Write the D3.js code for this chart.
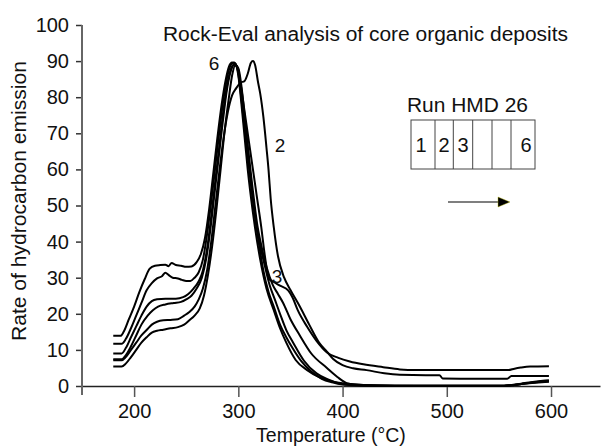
<!DOCTYPE html>
<html><head><meta charset="utf-8">
<script src="https://cdn.jsdelivr.net/npm/d3@7"></script>
<style>
html,body{margin:0;padding:0;background:#fff;}
text{font-family:"Liberation Sans",Arial,Helvetica,sans-serif;fill:#111;}
</style></head>
<body><svg id="c" width="601" height="448"></svg>
<script>
// ---- data ----
const title = "Rock-Eval analysis of core organic deposits";
const xLabel = "Temperature (°C)";
const yLabel = "Rate of hydrocarbon emission";
const xTicks = [200, 300, 400, 500, 600];
const yTicks = [0, 10, 20, 30, 40, 50, 60, 70, 80, 90, 100];
const legendTitle = "Run HMD 26";
const legendCells = ["1", "2", "3", "", "", "6"];

const run6 = [[180,13.9],[187,13.9],[190,15],[195,18.5],[200,22],[205,26],[210,29.5],[215,32.5],[220,33.3],[225,33.5],[230,33.6],[233,33.2],[236,34.1],[240,33.5],[245,33.3],[250,33],[255,33.1],[260,34.3],[264,36.5],[268,41],[272,49],[276,59],[280,69],[284,78],[288,85],[291,88.5],[294,89.6],[297,89.3],[300,86],[303,78],[306,69],[309,60],[314,48],[321,35],[327,27],[334,21],[340,16],[346,12],[355,7.2],[366,4.4],[378,2.4],[391,1.2],[405,0.6],[420,0.3],[450,0.1],[500,0.1],[555,0.1],[565,0.3],[575,0.7],[588,1.0],[598,1.2]];
const run5 = [[180,11.7],[188,11.7],[192,13],[197,16],[202,19.5],[207,23],[212,26.5],[217,28.5],[222,29.8],[227,30.5],[230,31.4],[233,30.8],[237,30],[242,29.8],[246,29.4],[250,29.1],[254,29.1],[258,30],[262,31.5],[266,35],[270,42],[274,51],[278,61],[282,71],[286,80],[290,86.5],[293,89],[296,89.6],[299,88],[302,82],[305,74],[308,66],[312,56],[316,47],[320,40],[324,35],[330,28],[335,24],[340,20],[346,15.5],[353,11.8],[363,7],[375,3.5],[386,1.8],[397,0.7],[410,0.3],[450,0.1],[500,0.1],[555,0.1],[565,0.4],[575,0.8],[588,1.3],[598,1.5]];
const run4 = [[180,9.0],[188,9.0],[192,10.5],[197,13.5],[202,16.5],[207,19.5],[212,22],[217,23.5],[222,24],[230,24.2],[240,24.2],[247,24.6],[252,25.5],[257,27],[262,29],[266,32],[270,38],[274,47],[278,57],[282,67],[286,77],[290,84.5],[294,88.5],[297,89.2],[300,87],[303,81],[306,74],[310,64],[314,54],[318,45],[322,39],[327,33],[333,28],[338,25.5],[343,23],[350,18.5],[359,14],[370,9],[385,5],[395,2.5],[404,0.8],[415,0.3],[450,0.1],[500,0.1],[555,0.1],[565,0.3],[575,0.7],[588,1.2],[598,1.5]];
const run3 = [[180,7.4],[188,7.4],[192,8.5],[197,11],[202,14],[207,17],[213,19.5],[218,21],[223,22],[230,22.6],[238,23],[245,23.3],[250,24],[255,25],[260,27],[265,30],[269,35],[273,43],[277,53],[281,63],[285,73],[289,82],[293,87.5],[296,89],[299,88.5],[302,84],[306,76],[310,68],[314,60],[318,52],[322,44],[325,37],[327,33],[329,29.8],[334,28.8],[340,27.8],[348,26.4],[352,24.5],[357,21],[366,16.4],[375,12.5],[385,9.3],[396,7.8],[407,6.8],[420,6],[439,5.2],[455,4.6],[470,4.4],[500,4.4],[559,4.4],[565,4.8],[571,5.1],[580,5.4],[598,5.5]];
const run2 = [[180,7.1],[188,7.1],[192,8],[197,10],[202,12],[207,14],[212,15.5],[217,17],[222,17.8],[228,18.2],[235,18.3],[242,18.5],[248,19.5],[253,20.5],[258,22],[262,24],[266,27],[270,32],[274,40],[278,50],[282,60],[286,69],[290,76],[294,80.5],[298,82.5],[302,84],[306,84.5],[309,86.5],[312,89.5],[314,90],[316,89],[319,84],[321,81],[324,74.6],[327,66],[329,59.8],[331,52],[334,44],[338,36],[344,30],[350,26.6],[359,22],[368,17],[378,11.8],[385,9.5],[391,7.5],[400,5.8],[410,4.9],[423,4.4],[440,3.5],[455,3.1],[480,3.0],[493,3.0],[496,2.1],[530,2.0],[558,2.0],[562,2.8],[580,2.8],[598,2.8]];
const run1 = [[180,5.4],[188,5.4],[192,6.2],[197,8],[202,10],[207,12],[212,13.5],[217,14.8],[222,15.3],[228,15.6],[235,16],[242,16.3],[248,17],[253,18.2],[258,19.5],[263,21.5],[267,25],[271,31],[275,39],[279,49],[283,60],[287,71],[291,80],[294,86],[297,88.8],[300,88],[303,83],[306,75],[309,66],[312,57],[316,47],[320,39],[324,32],[329,26],[334,22],[340,17],[346,13.5],[352,10.5],[360,7],[370,4],[380,2],[390,1],[400,0.4],[420,0.1],[500,0],[555,0],[565,0.3],[575,0.7],[588,1.1],[598,1.3]];
const runs = [run1, run2, run3, run4, run5, run6];
const curveLabels = ["6", "2", "3"];

// ---- chart ----
const svg = d3.select("#c");
const x = d3.scaleLinear().domain([150, 647]).range([82, 600]);
const y = d3.scaleLinear().domain([0, 100]).range([386, 25]);

// x axis
const gx = svg.append("g").attr("transform", `translate(0,${y(0)})`)
  .call(d3.axisBottom(x).tickValues(xTicks).tickSize(11).tickPadding(7).tickSizeOuter(0));
gx.select(".domain").attr("stroke", "#222").attr("stroke-width", 1.5);
gx.selectAll(".tick line").attr("stroke", "#555").attr("stroke-width", 1.5);
gx.selectAll(".tick text").attr("font-size", 20).attr("font-family", "Liberation Sans, Arial, sans-serif").attr("fill", "#111");

// y axis
const gy = svg.append("g").attr("transform", `translate(${x(150)},0)`)
  .call(d3.axisLeft(y).tickValues(yTicks).tickSize(6).tickPadding(7).tickSizeOuter(0));
gy.select(".domain").remove();
gy.selectAll(".tick line").attr("stroke", "#333").attr("stroke-width", 1.5);
gy.selectAll(".tick text").attr("font-size", 20).attr("font-family", "Liberation Sans, Arial, sans-serif").attr("fill", "#111");
svg.append("line").attr("x1", x(150)).attr("x2", x(150)).attr("y1", y(100)).attr("y2", y(0) + 9)
  .attr("stroke", "#666").attr("stroke-width", 2);

// curves
const line = d3.line().x(d => x(d[0])).y(d => y(d[1])).curve(d3.curveMonotoneX);
svg.append("g").selectAll("path").data(runs).join("path")
  .attr("d", line).attr("fill", "none").attr("stroke", "#000").attr("stroke-width", 2)
  .attr("stroke-linejoin", "round");

// curve labels
const lblPos = {"6": [214, 70], "2": [280, 152], "3": [277, 283]};
svg.append("g").selectAll("text").data(curveLabels).join("text")
  .attr("x", d => lblPos[d][0]).attr("y", d => lblPos[d][1])
  .attr("text-anchor", "middle").attr("font-size", 19).text(d => d);

// title
svg.append("text").attr("x", 163).attr("y", 41).attr("font-size", 19.5)
  .attr("textLength", 405).attr("lengthAdjust", "spacingAndGlyphs").text(title);

// axis labels
svg.append("text").attr("x", 331).attr("y", 442).attr("text-anchor", "middle")
  .attr("font-size", 19.5).text(xLabel);
svg.append("text").attr("transform", "translate(26,201) rotate(-90)").attr("text-anchor", "middle")
  .attr("font-size", 20).attr("textLength", 280).attr("lengthAdjust", "spacingAndGlyphs").text(yLabel);

// legend
svg.append("text").attr("x", 407).attr("y", 112).attr("font-size", 20)
  .attr("textLength", 121).attr("lengthAdjust", "spacingAndGlyphs").text(legendTitle);
const edges = [411, 435, 453.3, 472.7, 492, 511, 535];
const lg = svg.append("g");
lg.append("rect").attr("x", edges[0]).attr("y", 120).attr("width", edges[6] - edges[0]).attr("height", 49)
  .attr("fill", "none").attr("stroke", "#444").attr("stroke-width", 1);
lg.selectAll("line.div").data(edges.slice(1, 6)).join("line").attr("class", "div")
  .attr("x1", d => d).attr("x2", d => d).attr("y1", 120).attr("y2", 169)
  .attr("stroke", "#444").attr("stroke-width", 1);
lg.selectAll("text").data(legendCells).join("text")
  .attr("x", (d, i) => (edges[i] + edges[i + 1]) / 2 + (i === 0 ? -2 : i === 5 ? 3 : 0))
  .attr("y", 152).attr("text-anchor", "middle").attr("font-size", 20).text(d => d);

// arrow
svg.append("line").attr("x1", 448).attr("x2", 499).attr("y1", 202).attr("y2", 202)
  .attr("stroke", "#000").attr("stroke-width", 1.2);
svg.append("path").attr("d", "M498,197 L510,202 L498,207 Z").attr("fill", "#000")
  .attr("stroke", "#bb0").attr("stroke-width", 0.4);
</script></body></html>
